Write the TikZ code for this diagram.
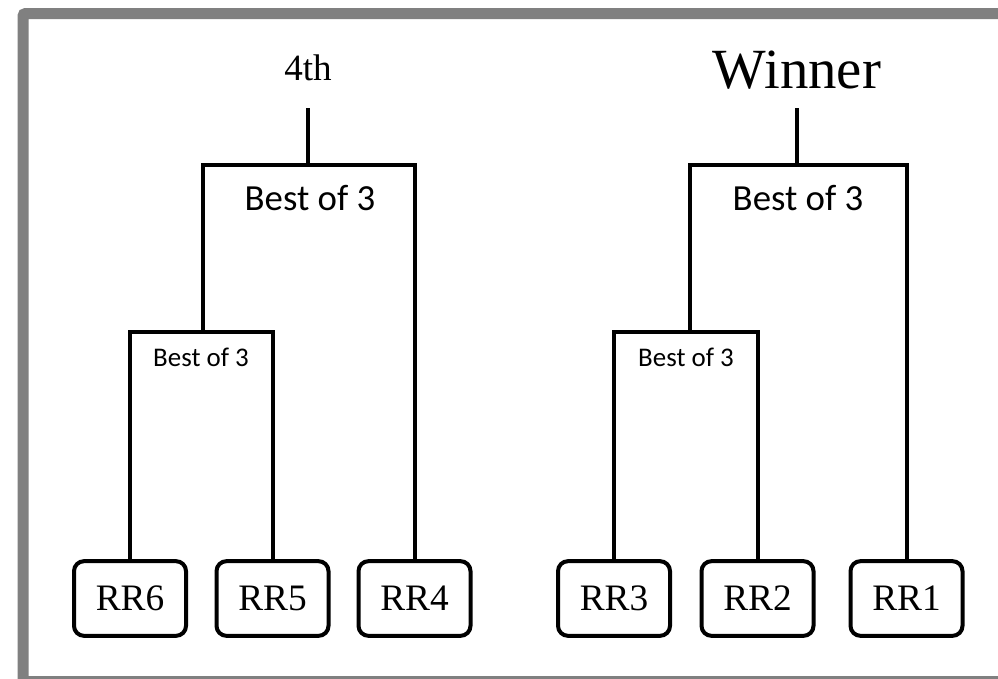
\documentclass[tikz,border=0pt]{standalone}
\usepackage{fontspec}
\setmainfont{Liberation Serif}
\newfontfamily\calib{Carlito}
\begin{document}
\begin{tikzpicture}[x=0.75pt,y=-0.75pt,
  rrbox/.style={draw=black,line width=3pt,rounded corners=7.5pt,minimum width=84pt,minimum height=56pt,inner sep=0pt,font=\fontsize{28}{30}\selectfont},
  wire/.style={draw=black,line width=3pt,line join=miter},
  bigbest/.style={anchor=base,inner sep=0pt,font=\calib\fontsize{27.6}{30}\selectfont},
  smallbest/.style={anchor=base,inner sep=0pt,font=\calib\fontsize{20.2}{24}\selectfont},
  title/.style={anchor=base,inner sep=0pt}]
\useasboundingbox (0,0) rectangle (998,678);
\begin{scope}
\clip (0,0) rectangle (998,678);
\draw[line width=8.25pt,draw={rgb,255:red,128;green,128;blue,128},rounded corners=2pt] (23,13.5) rectangle (1012,681.5);
\end{scope}
% boxes
\node[rrbox] (rr6) at (130,598.5) {RR6};
\node[rrbox] (rr5) at (272.5,598.5) {RR5};
\node[rrbox] (rr4) at (414.5,598.5) {RR4};
\node[rrbox] (rr3) at (614,598.5) {RR3};
\node[rrbox] (rr2) at (757.5,598.5) {RR2};
\node[rrbox] (rr1) at (906.5,598.5) {RR1};
% junctions
\coordinate (j1) at (203,332);
\coordinate (J1) at (308,165);
\coordinate (T1) at (308,108);
\coordinate (j2) at (690,332);
\coordinate (J2) at (797,165);
\coordinate (T2) at (797,108);
% texts
\node[title,font=\fontsize{27.8}{30}\selectfont] (fourth) at (308,80) {4th};
\node[title,font=\fontsize{42.6}{46}\selectfont] (winner) at (797,88) {Winner};
\node[bigbest] (bb1) at (310,210) {Best of 3};
\node[bigbest] (bb2) at (798,210) {Best of 3};
\node[smallbest] (sb1) at (201,366) {Best of 3};
\node[smallbest] (sb2) at (686,366) {Best of 3};
% brackets
\draw[wire] (rr6.north) |- (j1) -| (rr5.north);
\draw[wire] (j1) |- (J1) -| (rr4.north);
\draw[wire] (J1) -- (T1);
\draw[wire] (rr3.north) |- (j2) -| (rr2.north);
\draw[wire] (j2) |- (J2) -| (rr1.north);
\draw[wire] (J2) -- (T2);
\end{tikzpicture}
\end{document}
